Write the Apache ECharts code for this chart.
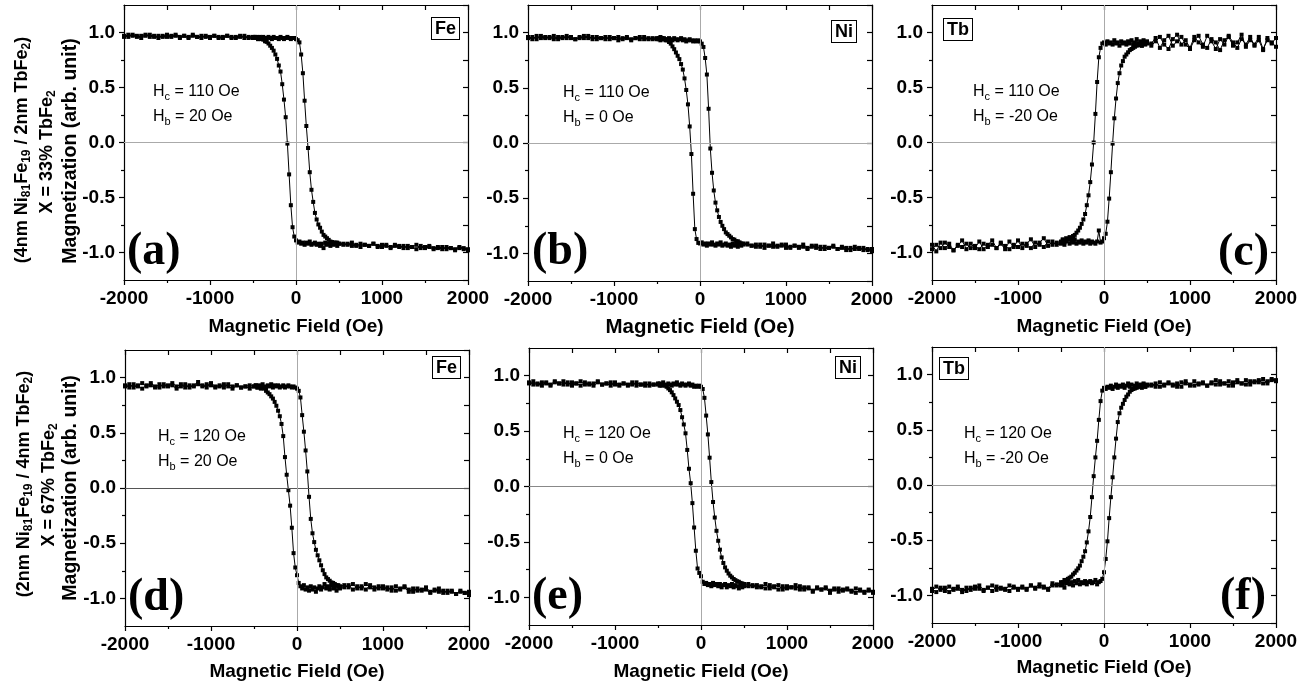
<!DOCTYPE html>
<html>
<head>
<meta charset="utf-8">
<script src="https://cdn.jsdelivr.net/npm/echarts@6/dist/echarts.min.js"></script>
<style>
html, body { margin: 0; padding: 0; background: #fff; }
#chart { width: 1314px; height: 687px; }
</style>
</head>
<body>
<div id="chart"></div>
<script>
// applied field (Oe): 50 Oe steps in saturation, 20 Oe steps across the switching region
const field = [
  -2000,-1950,-1900,-1850,-1800,-1750,-1700,-1650,-1600,-1550,
  -1500,-1450,-1400,-1350,-1300,-1250,-1200,-1150,-1100,-1050,
  -1000,-950,-900,-850,-800,-750,-700,-650,-600,-550,
  -500,-480,-460,-440,-420,-400,-380,-360,-340,-320,
  -300,-280,-260,-240,-220,-200,-180,-160,-140,-120,
  -100,-80,-60,-40,-20,0,
  20,40,60,80,100,120,140,160,180,200,
  220,240,260,280,300,320,340,360,380,400,
  420,440,460,480,500,
  550,600,650,700,750,800,850,900,950,1000,
  1050,1100,1150,1200,1250,1300,1350,1400,1450,1500,
  1550,1600,1650,1700,1750,1800,1850,1900,1950,2000
];

// (a) Fe, 33% TbFe2
const aUp = [
  0.97,0.96,0.98,0.97,0.95,0.97,0.98,0.96,0.97,0.96,
  0.98,0.96,0.97,0.95,0.97,0.96,0.98,0.96,0.95,0.97,
  0.96,0.97,0.95,0.96,0.97,0.95,0.96,0.97,0.95,0.96,
  0.96,0.95,0.96,0.94,0.96,0.95,0.96,0.94,0.95,0.96,
  0.95,0.94,0.96,0.95,0.95,0.94,0.96,0.95,0.94,0.95,
  0.96,0.95,0.94,0.95,0.95,0.94,
  0.93,0.91,0.80,0.63,0.38,0.15,-0.05,-0.27,-0.43,-0.54,
  -0.64,-0.70,-0.745,-0.775,-0.81,-0.84,-0.855,-0.87,-0.885,-0.90,
  -0.905,-0.91,-0.92,-0.91,-0.92,
  -0.92,-0.93,-0.91,-0.94,-0.92,-0.93,-0.94,-0.92,-0.95,-0.93,
  -0.94,-0.95,-0.93,-0.94,-0.96,-0.94,-0.95,-0.93,-0.96,-0.95,
  -0.94,-0.96,-0.95,-0.97,-0.95,-0.96,-0.97,-0.95,-0.96,-0.97
];
const aDown = [
  0.96,0.98,0.97,0.96,0.97,0.98,0.96,0.97,0.95,0.97,
  0.96,0.97,0.98,0.96,0.97,0.95,0.97,0.96,0.97,0.96,
  0.95,0.97,0.96,0.95,0.97,0.96,0.95,0.96,0.97,0.95,
  0.95,0.96,0.95,0.94,0.95,0.94,0.935,0.92,0.915,0.90,
  0.88,0.86,0.835,0.80,0.76,0.70,0.645,0.53,0.39,0.23,
  -0.01,-0.29,-0.57,-0.77,-0.855,-0.89,
  -0.91,-0.90,-0.92,-0.91,-0.93,-0.91,-0.92,-0.90,-0.93,-0.92,
  -0.91,-0.93,-0.92,-0.94,-0.92,-0.96,-0.91,-0.93,-0.92,-0.94,
  -0.92,-0.93,-0.91,-0.94,-0.92,
  -0.93,-0.92,-0.94,-0.93,-0.95,-0.93,-0.94,-0.92,-0.94,-0.95,
  -0.93,-0.96,-0.94,-0.95,-0.94,-0.96,-0.95,-0.97,-0.94,-0.96,
  -0.95,-0.97,-0.96,-0.95,-0.97,-0.96,-0.98,-0.96,-0.97,-0.98
];

// (b) Ni, 33% TbFe2
const bUp = [
  0.95,0.96,0.94,0.97,0.95,0.96,0.94,0.96,0.95,0.97,
  0.95,0.94,0.96,0.95,0.97,0.94,0.96,0.95,0.94,0.96,
  0.95,0.93,0.95,0.96,0.94,0.95,0.96,0.94,0.95,0.94,
  0.94,0.95,0.93,0.94,0.95,0.93,0.94,0.95,0.94,0.93,
  0.95,0.94,0.93,0.94,0.95,0.93,0.94,0.92,0.93,0.94,
  0.93,0.92,0.93,0.92,0.93,0.92,
  0.90,0.87,0.77,0.62,0.31,-0.05,-0.27,-0.43,-0.54,-0.61,
  -0.67,-0.715,-0.75,-0.78,-0.81,-0.825,-0.84,-0.855,-0.87,-0.875,
  -0.89,-0.89,-0.90,-0.91,-0.91,
  -0.91,-0.93,-0.92,-0.94,-0.92,-0.93,-0.91,-0.94,-0.93,-0.92,
  -0.95,-0.93,-0.94,-0.92,-0.95,-0.94,-0.93,-0.96,-0.94,-0.95,
  -0.93,-0.96,-0.94,-0.95,-0.97,-0.94,-0.96,-0.95,-0.97,-0.96
];
const bDown = [
  0.96,0.94,0.97,0.95,0.96,0.95,0.97,0.94,0.96,0.95,
  0.96,0.94,0.95,0.97,0.95,0.96,0.94,0.95,0.96,0.94,
  0.95,0.96,0.94,0.95,0.93,0.95,0.94,0.96,0.94,0.95,
  0.95,0.94,0.96,0.95,0.94,0.94,0.93,0.915,0.90,0.875,
  0.85,0.82,0.79,0.76,0.715,0.665,0.585,0.48,0.35,0.15,
  -0.10,-0.46,-0.78,-0.87,-0.905,-0.91,
  -0.90,-0.92,-0.91,-0.93,-0.91,-0.92,-0.90,-0.92,-0.93,-0.91,
  -0.92,-0.90,-0.93,-0.92,-0.91,-0.93,-0.92,-0.94,-0.91,-0.93,
  -0.92,-0.94,-0.92,-0.93,-0.92,
  -0.92,-0.93,-0.94,-0.92,-0.95,-0.93,-0.94,-0.93,-0.92,-0.95,
  -0.94,-0.93,-0.95,-0.94,-0.96,-0.93,-0.95,-0.94,-0.96,-0.95,
  -0.94,-0.96,-0.95,-0.97,-0.95,-0.96,-0.95,-0.97,-0.96,-0.98
];

// (c) Tb, 33% TbFe2
const cUp = [
  -0.93,-0.99,-0.91,-0.96,-0.92,-0.98,-0.94,-0.89,-0.97,-0.92,
  -0.96,-0.90,-0.97,-0.93,-0.89,-0.96,-0.92,-0.97,-0.90,-0.95,
  -0.89,-0.96,-0.92,-0.88,-0.95,-0.91,-0.87,-0.94,-0.90,-0.93,
  -0.92,-0.89,-0.93,-0.90,-0.88,-0.92,-0.89,-0.91,-0.88,-0.92,
  -0.90,-0.91,-0.89,-0.92,-0.90,-0.91,-0.89,-0.92,-0.90,-0.91,
  -0.92,-0.90,-0.80,-0.91,-0.90,-0.87,
  -0.83,-0.72,-0.51,-0.27,-0.01,0.22,0.40,0.54,0.63,0.70,
  0.74,0.78,0.80,0.82,0.84,0.85,0.86,0.87,0.88,0.885,
  0.89,0.88,0.91,0.89,0.92,
  0.88,0.92,0.96,0.89,0.85,0.94,0.98,0.89,0.93,0.86,
  0.96,0.91,0.87,0.97,0.92,0.85,0.94,0.89,0.97,0.91,
  0.86,0.94,0.89,0.96,0.88,0.93,0.84,0.95,0.91,0.87
];
const cDown = [
  -0.97,-0.93,-0.96,-0.91,-0.95,-0.98,-0.93,-0.95,-0.92,-0.96,
  -0.94,-0.97,-0.92,-0.95,-0.93,-0.96,-0.91,-0.94,-0.97,-0.93,
  -0.95,-0.92,-0.94,-0.96,-0.91,-0.93,-0.95,-0.90,-0.93,-0.91,
  -0.90,-0.88,-0.91,-0.87,-0.88,-0.86,-0.87,-0.85,-0.84,-0.82,
  -0.80,-0.775,-0.74,-0.70,-0.65,-0.57,-0.48,-0.36,-0.20,0.00,
  0.26,0.55,0.775,0.86,0.90,0.91,
  0.89,0.92,0.90,0.91,0.89,0.93,0.90,0.91,0.88,0.92,
  0.90,0.91,0.89,0.92,0.90,0.93,0.89,0.91,0.94,0.90,
  0.92,0.88,0.93,0.91,0.90,
  0.90,0.95,0.86,0.93,0.97,0.88,0.92,0.96,0.89,0.85,
  0.93,0.97,0.89,0.86,0.94,0.91,0.84,0.93,0.96,0.88,
  0.91,0.98,0.87,0.93,0.89,0.96,0.85,0.93,0.90,0.95
];

// (d) Fe, 67% TbFe2
const dUp = [
  0.92,0.94,0.91,0.93,0.95,0.92,0.93,0.91,0.94,0.92,
  0.93,0.95,0.92,0.94,0.91,0.93,0.92,0.94,0.93,0.91,
  0.95,0.92,0.93,0.91,0.94,0.92,0.93,0.91,0.92,0.93,
  0.92,0.93,0.91,0.93,0.92,0.94,0.92,0.91,0.93,0.92,
  0.94,0.91,0.93,0.92,0.93,0.91,0.92,0.93,0.91,0.92,
  0.93,0.92,0.91,0.92,0.91,0.90,
  0.88,0.82,0.66,0.51,0.34,0.15,-0.08,-0.28,-0.41,-0.49,
  -0.56,-0.61,-0.655,-0.70,-0.745,-0.78,-0.81,-0.825,-0.84,-0.855,
  -0.86,-0.87,-0.88,-0.88,-0.89,
  -0.88,-0.90,-0.87,-0.91,-0.89,-0.92,-0.88,-0.90,-0.91,-0.89,
  -0.92,-0.90,-0.93,-0.91,-0.89,-0.92,-0.94,-0.91,-0.93,-0.92,
  -0.95,-0.92,-0.94,-0.93,-0.95,-0.93,-0.96,-0.94,-0.95,-0.97
];
const dDown = [
  0.93,0.91,0.94,0.92,0.90,0.93,0.95,0.92,0.91,0.94,
  0.92,0.93,0.90,0.92,0.94,0.91,0.93,0.96,0.92,0.94,
  0.93,0.91,0.92,0.94,0.92,0.90,0.93,0.91,0.92,0.90,
  0.92,0.93,0.91,0.92,0.90,0.91,0.90,0.88,0.865,0.85,
  0.83,0.81,0.78,0.745,0.70,0.65,0.58,0.47,0.28,0.12,
  -0.02,-0.16,-0.36,-0.59,-0.72,-0.79,
  -0.86,-0.89,-0.91,-0.88,-0.92,-0.90,-0.93,-0.89,-0.92,-0.90,
  -0.94,-0.91,-0.89,-0.92,-0.90,-0.87,-0.91,-0.89,-0.92,-0.88,
  -0.91,-0.90,-0.93,-0.89,-0.91,
  -0.90,-0.88,-0.92,-0.89,-0.91,-0.87,-0.90,-0.92,-0.89,-0.91,
  -0.90,-0.93,-0.89,-0.92,-0.90,-0.94,-0.91,-0.93,-0.92,-0.90,
  -0.94,-0.93,-0.91,-0.95,-0.93,-0.94,-0.96,-0.93,-0.95,-0.94
];

// (e) Ni, 67% TbFe2
const eUp = [
  0.93,0.95,0.92,0.94,0.93,0.91,0.94,0.93,0.95,0.92,
  0.94,0.93,0.91,0.94,0.92,0.93,0.95,0.92,0.93,0.91,
  0.94,0.92,0.93,0.91,0.92,0.94,0.92,0.91,0.93,0.92,
  0.93,0.91,0.92,0.94,0.92,0.91,0.93,0.92,0.91,0.93,
  0.92,0.94,0.92,0.91,0.93,0.92,0.91,0.92,0.93,0.91,
  0.92,0.90,0.91,0.90,0.91,0.90,
  0.88,0.80,0.64,0.47,0.26,0.04,-0.14,-0.28,-0.40,-0.49,
  -0.57,-0.64,-0.69,-0.73,-0.76,-0.785,-0.805,-0.82,-0.835,-0.845,
  -0.855,-0.86,-0.87,-0.875,-0.88,
  -0.88,-0.90,-0.89,-0.91,-0.88,-0.92,-0.90,-0.89,-0.93,-0.90,
  -0.91,-0.92,-0.90,-0.93,-0.91,-0.95,-0.92,-0.93,-0.91,-0.94,
  -0.92,-0.95,-0.93,-0.92,-0.94,-0.96,-0.93,-0.95,-0.94,-0.96
];
const eDown = [
  0.94,0.92,0.93,0.91,0.94,0.92,0.95,0.93,0.92,0.94,
  0.91,0.93,0.95,0.92,0.93,0.91,0.94,0.92,0.93,0.94,
  0.92,0.91,0.93,0.92,0.94,0.91,0.92,0.93,0.91,0.92,
  0.92,0.93,0.91,0.92,0.91,0.90,0.885,0.87,0.85,0.825,
  0.795,0.765,0.735,0.69,0.625,0.56,0.48,0.33,0.16,0.03,
  -0.15,-0.37,-0.58,-0.74,-0.78,-0.81,
  -0.86,-0.88,-0.87,-0.89,-0.88,-0.90,-0.87,-0.89,-0.88,-0.90,
  -0.88,-0.91,-0.89,-0.88,-0.91,-0.89,-0.90,-0.88,-0.91,-0.89,
  -0.90,-0.92,-0.89,-0.91,-0.90,
  -0.90,-0.89,-0.91,-0.90,-0.92,-0.89,-0.91,-0.93,-0.90,-0.92,
  -0.91,-0.89,-0.93,-0.91,-0.92,-0.94,-0.91,-0.93,-0.92,-0.96,
  -0.93,-0.92,-0.94,-0.93,-0.95,-0.92,-0.94,-0.96,-0.93,-0.95
];

// (f) Tb, 67% TbFe2
const fUp = [
  -0.96,-0.92,-0.95,-0.93,-0.97,-0.94,-0.92,-0.95,-0.96,-0.93,
  -0.94,-0.91,-0.95,-0.93,-0.96,-0.92,-0.94,-0.95,-0.91,-0.93,
  -0.95,-0.92,-0.94,-0.91,-0.93,-0.90,-0.92,-0.94,-0.89,-0.91,
  -0.91,-0.88,-0.93,-0.89,-0.87,-0.90,-0.88,-0.91,-0.87,-0.89,
  -0.86,-0.90,-0.88,-0.89,-0.87,-0.90,-0.88,-0.87,-0.89,-0.88,
  -0.86,-0.90,-0.88,-0.87,-0.85,-0.79,
  -0.67,-0.51,-0.30,-0.11,0.07,0.25,0.42,0.57,0.65,0.70,
  0.735,0.77,0.80,0.82,0.845,0.86,0.87,0.875,0.88,0.89,
  0.90,0.88,0.91,0.89,0.90,
  0.91,0.89,0.93,0.90,0.92,0.91,0.89,0.93,0.92,0.90,
  0.94,0.91,0.92,0.90,0.93,0.95,0.91,0.92,0.94,0.90,
  0.93,0.92,0.95,0.91,0.94,0.93,0.96,0.92,0.95,0.94
];
const fDown = [
  -0.94,-0.97,-0.93,-0.96,-0.92,-0.95,-0.94,-0.97,-0.93,-0.95,
  -0.92,-0.94,-0.96,-0.93,-0.91,-0.95,-0.93,-0.94,-0.96,-0.92,
  -0.94,-0.93,-0.95,-0.91,-0.94,-0.92,-0.93,-0.95,-0.91,-0.90,
  -0.88,-0.90,-0.86,-0.87,-0.85,-0.84,-0.83,-0.81,-0.795,-0.775,
  -0.755,-0.73,-0.69,-0.65,-0.60,-0.52,-0.42,-0.29,-0.11,0.08,
  0.25,0.40,0.59,0.76,0.855,0.88,
  0.87,0.89,0.88,0.90,0.87,0.89,0.91,0.88,0.90,0.89,
  0.91,0.88,0.90,0.92,0.89,0.91,0.87,0.90,0.92,0.89,
  0.91,0.90,0.92,0.89,0.91,
  0.90,0.92,0.89,0.91,0.93,0.90,0.92,0.89,0.94,0.91,
  0.90,0.92,0.93,0.90,0.92,0.91,0.94,0.92,0.90,0.93,
  0.95,0.92,0.91,0.94,0.93,0.95,0.92,0.94,0.96,0.95
];

const branches = [[aUp, aDown], [bUp, bDown], [cUp, cDown], [dUp, dDown], [eUp, eDown], [fUp, fDown]];
const elementNames = ['Fe', 'Ni', 'Tb', 'Fe', 'Ni', 'Tb'];
const panelLetters = ['(a)', '(b)', '(c)', '(d)', '(e)', '(f)'];
const hcValues = ['110 Oe', '110 Oe', '110 Oe', '120 Oe', '120 Oe', '120 Oe'];
const hbValues = ['20 Oe', '0 Oe', '-20 Oe', '20 Oe', '0 Oe', '-20 Oe'];
const sampleNames = ['(4nm Ni{s|81}Fe{s|19} / 2nm TbFe{s|2})', '(2nm Ni{s|81}Fe{s|19} / 4nm TbFe{s|2})'];
const sampleRatios = ['X = 33% TbFe{s|2}', 'X = 67% TbFe{s|2}'];
const yLabelValues = [-1, -0.5, 0, 0.5, 1];
const yMinorValues = [-0.75, -0.25, 0.25, 0.75];

const SANS = '"Liberation Sans", Arial, sans-serif';
const SERIF = '"Liberation Serif", "Times New Roman", serif';

// panel placement: grid [left, top, width, height], zero line colour, name gap, boxes
const layout = [
    { grid: [124, 5, 344, 275], zero: '#aaa', gap: 37, nameSize: 19, box: [432, 18], letter: [127, 252], note: [153, 92] },
    { grid: [528, 5, 344, 276], zero: '#aaa', gap: 36, nameSize: 20.5, box: [832, 21], letter: [532, 252], note: [563, 93] },
    { grid: [932, 5, 344, 275], zero: '#aaa', gap: 37, nameSize: 19, box: [944, 19], letter: [1218, 253], note: [973, 92] },
    { grid: [125, 350, 344, 276], zero: '#555', gap: 36, nameSize: 19, box: [433, 357], letter: [128, 598], note: [158, 437] },
    { grid: [529, 348, 344, 277], zero: '#888', gap: 37, nameSize: 19, box: [836, 357], letter: [532, 597], note: [563, 434] },
    { grid: [932, 347, 344, 276], zero: '#999', gap: 35, nameSize: 19, box: [940, 358], letter: [1220, 597], note: [964, 434] }
];

const chart = echarts.init(document.getElementById('chart'));

const grids = [];
const xAxes = [];
const yAxes = [];
const series = [];
const graphics = [];
const axisLine = { show: true, onZero: false, lineStyle: { color: '#000', width: 1.2 } };

layout.forEach((p, i) => {
    grids.push({ left: p.grid[0], top: p.grid[1], width: p.grid[2], height: p.grid[3], outerBoundsMode: 'none' });

    // bottom axis with labels, top axis with inward ticks only
    xAxes.push({
        type: 'value', gridIndex: i, position: 'bottom', min: -2000, max: 2000, interval: 1000,
        axisLine: axisLine,
        axisTick: { show: true, inside: false, length: 5, lineStyle: { color: '#000', width: 1.2 } },
        minorTick: { show: true, splitNumber: 2, length: 3, lineStyle: { color: '#000', width: 1.2 } },
        axisLabel: {
            show: true, margin: 9, color: '#000', fontSize: 19, fontWeight: 'bold', fontFamily: SANS,
            showMinLabel: true, showMaxLabel: true, formatter: v => String(v)
        },
        splitLine: { show: false },
        name: 'Magnetic Field (Oe)', nameLocation: 'middle', nameGap: p.gap,
        nameTextStyle: { color: '#000', fontSize: p.nameSize, fontWeight: 'bold', fontFamily: SANS }
    });
    xAxes.push({
        type: 'value', gridIndex: i, position: 'top', min: -2000, max: 2000, interval: 500,
        axisLine: axisLine,
        axisTick: { show: true, inside: true, length: 5, lineStyle: { color: '#000', width: 1.2 } },
        axisLabel: { show: false }, splitLine: { show: false }
    });

    // left axis (labels + major ticks), left minor ticks, right axis with inward ticks
    yAxes.push({
        type: 'value', gridIndex: i, position: 'left', min: -1.25, max: 1.25,
        axisLine: axisLine,
        axisTick: { show: true, inside: false, length: 5, customValues: yLabelValues, lineStyle: { color: '#000', width: 1.2 } },
        axisLabel: {
            show: true, margin: 9, customValues: yLabelValues, color: '#000', fontSize: 19, fontWeight: 'bold', fontFamily: SANS,
            formatter: v => v.toFixed(1)
        },
        splitLine: { show: false }
    });
    yAxes.push({
        type: 'value', gridIndex: i, position: 'left', min: -1.25, max: 1.25,
        axisLine: { show: false, onZero: false },
        axisTick: { show: true, inside: false, length: 3, customValues: yMinorValues, lineStyle: { color: '#000', width: 1.2 } },
        axisLabel: { show: false }, splitLine: { show: false }
    });
    yAxes.push({
        type: 'value', gridIndex: i, position: 'right', min: -1.25, max: 1.25, interval: 0.25,
        axisLine: axisLine,
        axisTick: { show: true, inside: true, length: 5, lineStyle: { color: '#000', width: 1.2 } },
        axisLabel: { show: false }, splitLine: { show: false }
    });

    // zero reference lines behind the loops
    series.push({
        type: 'line', xAxisIndex: i * 2, yAxisIndex: i * 3, data: [], z: 1, silent: true,
        markLine: {
            silent: true, symbol: 'none', animation: false, label: { show: false },
            data: [
                { yAxis: 0, lineStyle: { color: p.zero, width: 1, type: 'solid' } },
                { xAxis: 0, lineStyle: { color: '#aaa', width: 1, type: 'solid' } }
            ]
        }
    });

    branches[i].forEach(branch => {
        series.push({
            type: 'line', xAxisIndex: i * 2, yAxisIndex: i * 3,
            data: field.map((h, k) => [h, branch[k]]),
            symbol: 'rect', symbolSize: 4, showSymbol: true, silent: true,
            itemStyle: { color: '#000' },
            lineStyle: { color: '#000', width: 1 },
            z: 2
        });
    });

    // element label box
    graphics.push({
        type: 'text', x: p.box[0], y: p.box[1], z: 10,
        style: {
            text: elementNames[i], fill: '#000', fontSize: 18, fontWeight: 'bold', fontFamily: SANS,
            align: 'left', verticalAlign: 'top', padding: [2, 3, 1, 3],
            borderColor: '#000', borderWidth: 1, backgroundColor: '#fff'
        }
    });

    // panel letter
    graphics.push({
        type: 'text', x: p.letter[0], y: p.letter[1], z: 10,
        style: { text: panelLetters[i], fill: '#000', fontSize: 46, fontWeight: 'bold', fontFamily: SERIF, align: 'left', verticalAlign: 'middle' }
    });

    // coercivity / bias annotations
    const noteRich = { s: { fontSize: 11, fontFamily: SANS, lineHeight: 11, verticalAlign: 'bottom', fill: '#000' } };
    graphics.push({
        type: 'text', x: p.note[0], y: p.note[1], z: 10,
        style: { text: 'H{s|c} = ' + hcValues[i], fill: '#000', fontSize: 16, fontFamily: SANS, lineHeight: 20, align: 'left', verticalAlign: 'middle', rich: noteRich }
    });
    graphics.push({
        type: 'text', x: p.note[0], y: p.note[1] + 25, z: 10,
        style: { text: 'H{s|b} = ' + hbValues[i], fill: '#000', fontSize: 16, fontFamily: SANS, lineHeight: 20, align: 'left', verticalAlign: 'middle', rich: noteRich }
    });
});

// rotated row titles on the left
const rowTitle = [
    { x: [22, 47, 71], y: [150, 152, 151] },
    { x: [24, 49, 71], y: [484, 485, 488] }
];
const titleRich = { s: { fontSize: 12, fontWeight: 'bold', fontFamily: SANS, lineHeight: 13, verticalAlign: 'bottom', fill: '#000' } };
rowTitle.forEach((r, row) => {
    const lines = [sampleNames[row], sampleRatios[row], 'Magnetization (arb. unit)'];
    const sizes = [18, 18, 19.5];
    lines.forEach((txt, k) => {
        graphics.push({
            type: 'text', x: r.x[k], y: r.y[k], rotation: Math.PI / 2, z: 10,
            style: {
                text: txt, fill: '#000', fontSize: sizes[k], fontWeight: 'bold', fontFamily: SANS, lineHeight: 22,
                align: 'center', verticalAlign: 'middle', rich: titleRich
            }
        });
    });
});

chart.setOption({
    animation: false,
    backgroundColor: '#fff',
    grid: grids,
    xAxis: xAxes,
    yAxis: yAxes,
    series: series,
    graphic: { elements: graphics }
});
</script>
</body>
</html>
